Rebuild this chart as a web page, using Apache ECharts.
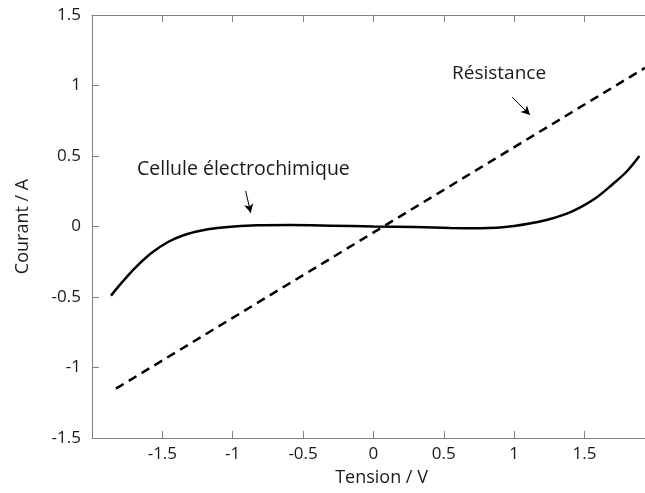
<!DOCTYPE html>
<html>
<head>
<meta charset="utf-8">
<script src="https://cdn.jsdelivr.net/npm/echarts@6/dist/echarts.min.js"></script>
<style>
  html, body { margin: 0; padding: 0; background: #fff; }
  #chart { width: 645px; height: 493px; }
</style>
</head>
<body>
<div id="chart"></div>
<script>
// courbe de la cellule (tension V, courant A)
var celluleTension = [-1.865, -1.79, -1.70, -1.58, -1.46, -1.345, -1.23, -1.11, -0.99, -0.83, -0.6, -0.3, 0, 0.3, 0.55, 0.76, 1.0, 1.23, 1.37, 1.47, 1.585, 1.70, 1.80, 1.89];
var celluleCourant = [-0.49, -0.40, -0.30, -0.19, -0.11, -0.06, -0.03, -0.011, 0.0, 0.008, 0.01, 0.006, 0.0, -0.004, -0.01, -0.012, 0.004, 0.046, 0.089, 0.135, 0.205, 0.30, 0.39, 0.5];

// résistance : droite
var resistanceTension = [-1.83, 1.93];
var resistanceCourant = [-1.15, 1.125];

function pairs(xs, ys) {
  return xs.map(function (x, i) { return [x, ys[i]]; });
}

var chartDom = document.getElementById('chart');
var myChart = echarts.init(chartDom);

var font = '"Open Sans", sans-serif';
var axisColor = '#808080';
var textColor = '#1a1a1a';

var option = {
  animation: false,
  grid: { left: 92, top: 15, right: 0, bottom: 55 },
  xAxis: [
    {
      type: 'value',
      min: -2,
      max: 1.93,
      interval: 0.5,
      name: 'Tension / V',
      nameLocation: 'middle',
      nameGap: 31,
      nameTextStyle: { fontFamily: font, fontSize: 18, color: textColor, padding: [0, 0, 0, 26] },
      axisLine: { onZero: false, lineStyle: { color: axisColor } },
      axisTick: { inside: true, length: 7, lineStyle: { color: axisColor } },
      axisLabel: {
        showMinLabel: false, showMaxLabel: false,
        fontFamily: font, fontSize: 17, color: textColor, margin: 8
      },
      splitLine: { show: false }
    },
    {
      type: 'value',
      position: 'top',
      min: -2,
      max: 1.93,
      interval: 0.5,
      axisLine: { show: true, onZero: false, lineStyle: { color: axisColor } },
      axisTick: { show: true, inside: true, length: 7, lineStyle: { color: axisColor } },
      axisLabel: { show: false },
      splitLine: { show: false }
    }
  ],
  yAxis: {
    type: 'value',
    min: -1.5,
    max: 1.5,
    interval: 0.5,
    name: 'Courant / A',
    nameLocation: 'middle',
    nameGap: 60,
    nameTextStyle: { fontFamily: font, fontSize: 18, color: textColor },
    axisLine: { show: true, onZero: false, lineStyle: { color: axisColor } },
    axisTick: { show: true, inside: true, length: 7, lineStyle: { color: axisColor } },
    axisLabel: { fontFamily: font, fontSize: 17, color: textColor, margin: 11 },
    splitLine: { show: false }
  },
  series: [
    {
      name: 'Cellule électrochimique',
      type: 'line',
      data: pairs(celluleTension, celluleCourant),
      smooth: 0.35,
      showSymbol: false,
      lineStyle: { color: '#000', width: 2.5 }
    },
    {
      name: 'Résistance',
      type: 'line',
      data: pairs(resistanceTension, resistanceCourant),
      showSymbol: false,
      lineStyle: { color: '#000', width: 2.5, type: [9, 6] },
      markLine: {
        silent: true,
        symbol: ['none', 'arrow'],
        symbolSize: [7, 9],
        label: { show: false },
        lineStyle: { color: '#000', width: 1, type: 'solid' },
        data: [
          [{ coord: [-0.908, 0.252] }, { coord: [-0.872, 0.096] }],
          [{ coord: [0.986, 0.918] }, { coord: [1.113, 0.79] }]
        ]
      }
    }
  ],
  graphic: [
    {
      type: 'text', left: 137, top: 159,
      style: { text: 'Cellule électrochimique', font: '19.5px ' + font, fill: textColor }
    },
    {
      type: 'text', left: 452, top: 64,
      style: { text: 'Résistance', font: '19px ' + font, fill: textColor }
    }
  ]
};

myChart.setOption(option);
</script>
</body>
</html>
